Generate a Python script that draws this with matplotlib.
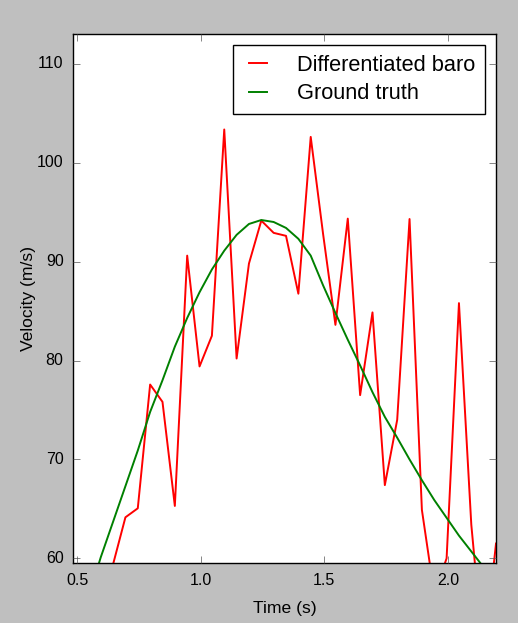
import matplotlib
matplotlib.use("Agg")
import matplotlib.pyplot as plt

plt.style.use("classic")
plt.rcParams["font.family"] = ["Liberation Sans", "DejaVu Sans"]

# Time stamps (s)
time_baro = [0.595, 0.645, 0.695, 0.745, 0.795, 0.845, 0.895, 0.945, 0.995,
             1.045, 1.095, 1.145, 1.195, 1.245, 1.295, 1.345, 1.395, 1.445,
             1.495, 1.545, 1.595, 1.645, 1.695, 1.745, 1.795, 1.845, 1.895,
             1.945, 1.995, 2.045, 2.095, 2.145, 2.195]
vel_baro = [52.0, 59.4, 64.15, 65.06, 77.57, 75.82, 65.3, 90.6, 79.4,
            82.5, 103.35, 80.2, 89.8, 94.14, 92.9, 92.6, 86.75, 102.6,
            92.8, 83.6, 94.34, 76.5, 84.86, 67.4, 74.0, 94.3, 64.9,
            56.4, 60.0, 85.8, 63.4, 50.0, 61.5]

time_truth = [0.545, 0.595, 0.645, 0.695, 0.745, 0.795, 0.845, 0.895, 0.945,
              0.995, 1.045, 1.095, 1.145, 1.195, 1.245, 1.295, 1.345, 1.395,
              1.445, 1.495, 1.545, 1.595, 1.645, 1.695, 1.745, 1.795, 1.845,
              1.895, 1.945, 1.995, 2.045, 2.095, 2.145, 2.195]
vel_truth = [56.0, 60.1, 63.7, 67.3, 70.9, 74.8, 78.0, 81.4, 84.3,
             86.9, 89.2, 91.1, 92.7, 93.8, 94.2, 94.0, 93.4, 92.3,
             90.6, 87.6, 84.8, 82.1, 79.5, 76.8, 74.3, 72.2, 70.0,
             67.9, 65.9, 64.1, 62.3, 60.7, 59.1, 57.5]

labels = ["Differentiated baro", "Ground truth"]

fig = plt.figure(figsize=(5.18, 6.23), dpi=100)
fig.patch.set_facecolor("#bfbfbf")
ax = fig.add_axes([0.1415, 0.0958, 0.8151, 0.8496])

ax.plot(time_baro, vel_baro, color="#ff0000", lw=1.4, label=labels[0])
ax.plot(time_truth, vel_truth, color="#008000", lw=1.4, label=labels[1])

ax.set_xlim(0.484, 2.193)
ax.set_ylim(59.5, 113.0)
ax.set_xticks([0.5, 1.0, 1.5, 2.0])
ax.set_yticks([60, 70, 80, 90, 100, 110])
ax.tick_params(axis="both", which="major", direction="in", length=5,
               color="#555555", labelsize=11.5, pad=7,
               top=True, right=True)
ax.minorticks_off()

ax.set_xlabel("Time (s)", fontsize=12.6, labelpad=9)
ax.set_ylabel("Velocity (m/s)", fontsize=12.6, labelpad=1)

leg = ax.legend(loc="upper right", fontsize=15.7, frameon=True, fancybox=False,
                handlelength=1.42, handletextpad=1.06, borderpad=0.45,
                labelspacing=0.35, borderaxespad=0.5, numpoints=2)
leg.get_frame().set_edgecolor("black")
leg.get_frame().set_linewidth(1.0)

fig.savefig("out.png", dpi=100, facecolor=fig.get_facecolor())
